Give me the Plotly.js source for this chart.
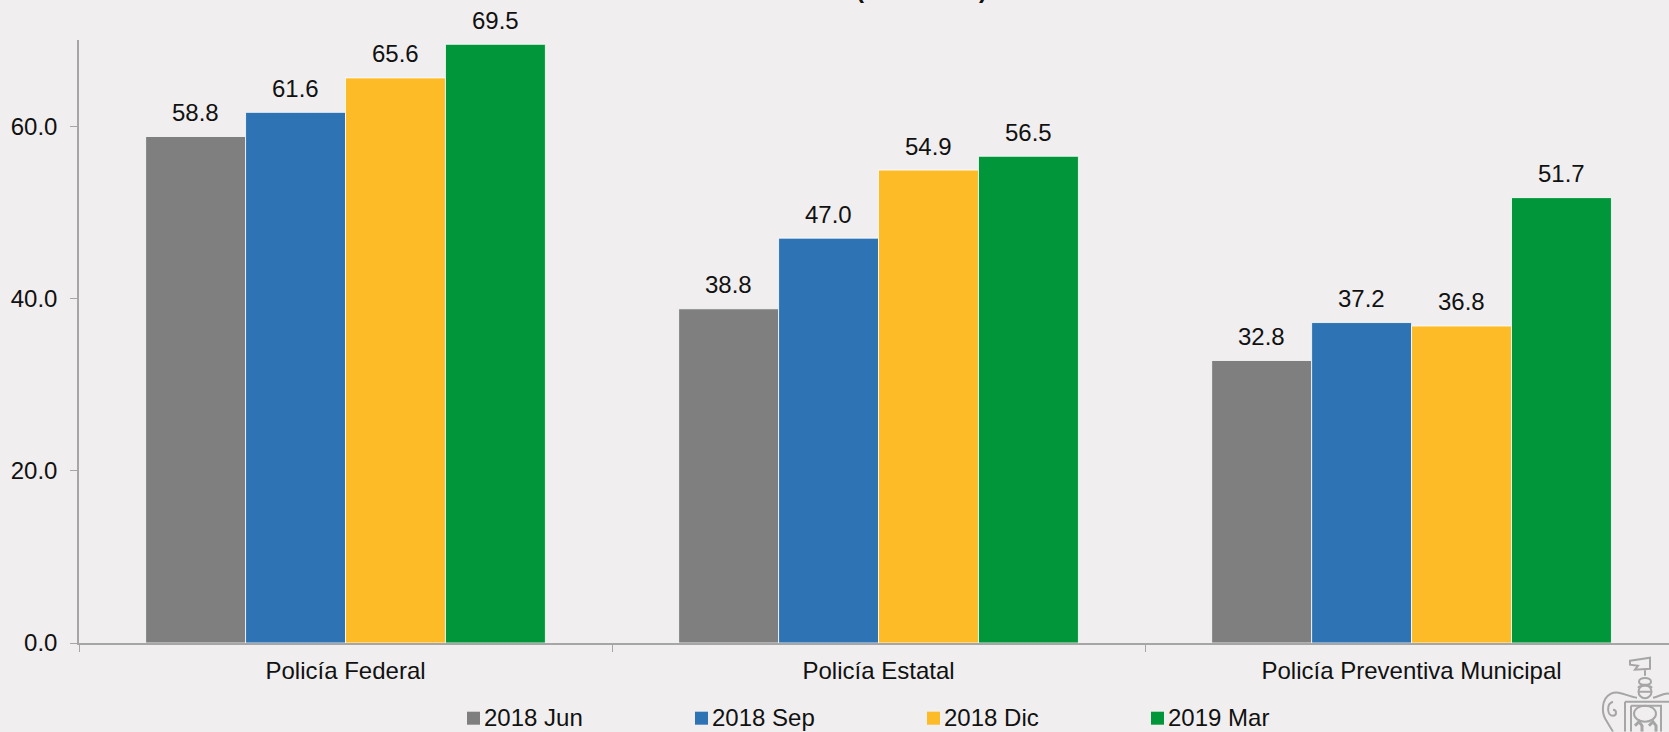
<!DOCTYPE html>
<html><head><meta charset="utf-8">
<script src="https://cdn.plot.ly/plotly-3.0.1.min.js"></script>
<style>html,body{margin:0;padding:0;background:#f0eeef;overflow:hidden}</style>
</head><body><div id="chart" style="width:1669px;height:732px"></div>
<script>
const categories = ["Policía Federal", "Policía Estatal", "Policía Preventiva Municipal"];
const seriesNames = ["2018 Jun", "2018 Sep", "2018 Dic", "2019 Mar"];
const jun2018 = [58.8, 38.8, 32.8];
const sep2018 = [61.6, 47.0, 37.2];
const dic2018 = [65.6, 54.9, 36.8];
const mar2019 = [69.5, 56.5, 51.7];
const colors = ["#7f7f7f", "#2e74b5", "#fdbb27", "#009639"];
const yTicks = [0, 20, 40, 60];
const allSeries = [jun2018, sep2018, dic2018, mar2019];
const FONT = "Liberation Sans, Arial, sans-serif";
const TEXT = "#111111";

const M = {l: 79, r: 0, t: 40.3, b: 88.7};
const plotW = 1669 - M.l - M.r, plotH = 732 - M.t - M.b;
const px = x => (x - M.l) / plotW;
const py = y => (732 - M.b - y) / plotH;

const legendSwatchX = [467, 695, 927, 1151];
const legendTextX = [484, 712, 944, 1168];

const emblem = `<svg xmlns="http://www.w3.org/2000/svg" width="80" height="82" viewBox="0 0 80 82"><g fill="none" stroke="#a6a6a6" stroke-width="2"><path d="M41 11l20-3v11l-15 1 3-4-8-1z M56 20v6"/><path d="M50 32c0-5 12-5 12 0c0 4-12 4-12 0z M49 38c2-3 12-3 14 0"/><circle cx="56" cy="42" r="6.5"/><path d="M50 42h12"/><path d="M48 48C38 47 30 40 22 44C12 49 12 64 18 72L24 82M64 48C70 47 75 43 80 44"/><path d="M24 52C17 54 18 66 24 66C28 66 28 60 24 60"/><path d="M36 52H80M36 52V82M42 56H72V82M42 56V82"/><ellipse cx="56" cy="64" rx="11" ry="8"/><path d="M46 76l4-4 3 4v6M60 76l4-4 3 4v6" stroke-width="3"/></g></svg>`;

const traces = seriesNames.map((name, j) => ({
  type: "bar", name, x: categories, y: allSeries[j],
  marker: {color: colors[j], line: {color: "#ffffff", width: 0.8}},
  hoverinfo: "x+y+name"
}));

const annotations = [];
allSeries.forEach((vals, j) => vals.forEach((v, i) => annotations.push({
  x: i + (j - 1.5) * 0.1875, y: v, xref: "x", yref: "y", text: v.toFixed(1),
  showarrow: false, yanchor: "middle", yshift: 24,
  font: {family: FONT, size: 24, color: TEXT}
})));
["(", ")"].forEach((t, k) => annotations.push({
  x: px([860, 983][k]), y: py(-10), xref: "paper", yref: "paper", text: t, showarrow: false,
  yanchor: "middle", font: {family: FONT, size: 24, color: TEXT, weight: 700}
}));
seriesNames.forEach((name, j) => annotations.push({
  x: px(legendTextX[j]), y: py(718), xref: "paper", yref: "paper", text: name, showarrow: false,
  xanchor: "left", yanchor: "middle", xshift: -2, font: {family: FONT, size: 24, color: TEXT}
}));

const shapes = seriesNames.map((name, j) => ({
  type: "rect", xref: "paper", yref: "paper", line: {width: 0}, fillcolor: colors[j],
  x0: px(legendSwatchX[j]), x1: px(legendSwatchX[j] + 13), y0: py(712), y1: py(725)
}));

const layout = {
  width: 1669, height: 732, showlegend: false,
  paper_bgcolor: "#f0eeef", plot_bgcolor: "#f0eeef",
  margin: {l: M.l, r: M.r, t: M.t, b: M.b, pad: 0, autoexpand: false},
  barmode: "group", bargap: 0.25, bargroupgap: 0,
  font: {family: FONT, size: 24, color: TEXT},
  xaxis: {type: "category", range: [-0.5, 2.483], tickson: "boundaries", ticks: "outside", ticklen: 7,
    tickcolor: "#a6a6a6", tickwidth: 1, showline: true, linecolor: "#a6a6a6", linewidth: 1.5, showgrid: false,
    ticklabelstandoff: 5, tickfont: {family: FONT, size: 24, color: TEXT}, fixedrange: true},
  yaxis: {range: [0, 70], tickvals: yTicks, ticktext: yTicks.map(v => v.toFixed(1)), ticks: "outside", ticklen: 7,
    tickcolor: "#a6a6a6", tickwidth: 1, showline: true, linecolor: "#a6a6a6", linewidth: 1.5, showgrid: false, zeroline: false,
    ticklabelstandoff: 8, tickfont: {family: FONT, size: 24, color: TEXT}, fixedrange: true},
  annotations, shapes,
  images: [{source: "data:image/svg+xml;utf8," + encodeURIComponent(emblem), xref: "paper", yref: "paper",
    x: px(1589), y: py(650), sizex: 80 / plotW, sizey: 82 / plotH, sizing: "stretch", xanchor: "left", yanchor: "top", layer: "above"}]
};
Plotly.newPlot("chart", traces, layout, {displayModeBar: false, responsive: false});
</script></body></html>
